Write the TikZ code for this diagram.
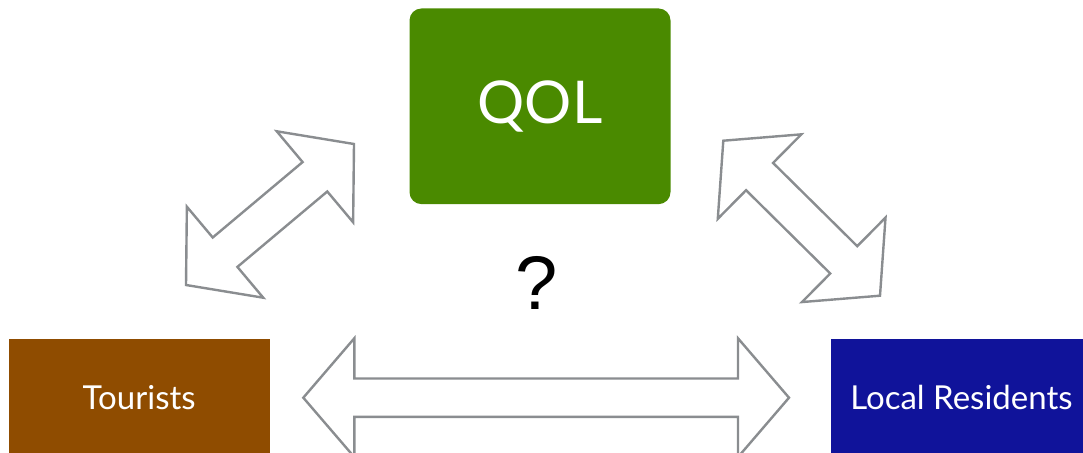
\documentclass[tikz,border=0pt]{standalone}
\usepackage{fontspec}
\setmainfont{Lato}
\newfontfamily\qmarkfont{Liberation Sans}
\usetikzlibrary{calc}
\definecolor{qolgreen}{RGB}{74,138,0}
\definecolor{touristbrown}{RGB}{143,76,0}
\definecolor{residentblue}{RGB}{16,19,154}
\definecolor{arrowgray}{RGB}{138,141,144}
\tikzset{
  box/.style={minimum width=261pt, minimum height=117pt, inner sep=0pt, text=white},
  arrowline/.style={draw=arrowgray, line width=2.4pt, fill=white, line join=miter},
}
% hollow double arrow from tip #1 to tip #2
\newcommand{\blockarrow}[2]{%
  \coordinate (#1h) at ($(#1)!51pt!(#2)$);
  \coordinate (#2h) at ($(#2)!51pt!(#1)$);
  \draw[arrowline] (#1)
    -- ($(#1h)!59.4pt!90:(#2)$) -- ($(#1h)!19.2pt!90:(#2)$)
    -- ($(#2h)!19.2pt!-90:(#1)$) -- ($(#2h)!59.4pt!-90:(#1)$)
    -- (#2)
    -- ($(#2h)!59.4pt!90:(#1)$) -- ($(#2h)!19.2pt!90:(#1)$)
    -- ($(#1h)!19.2pt!-90:(#2)$) -- ($(#1h)!59.4pt!-90:(#2)$)
    -- cycle;}
\begin{document}
\begin{tikzpicture}[x=1pt, y=-1pt]
      \clip (0,0) rectangle (1083,452);
      \draw
        (540,106.3) node[box, fill=qolgreen, minimum height=195.7pt, rounded corners=12pt,
          font=\fontsize{59}{62}\selectfont] (qol){QOL}
        (139.2,397.8) node[box, fill=touristbrown, font=\fontsize{33}{36}\selectfont] (tourists){Tourists}
        (961.4,397.8) node[box, fill=residentblue, font=\fontsize{33}{36}\selectfont] (residents){Local Residents}
        (537,283) node[font=\qmarkfont\fontsize{76}{80}\selectfont] (question){?};
      \coordinate (qolleft) at (354,144);
      \coordinate (touristsup) at (186,285);
      \coordinate (qolright) at (723.3,140.7);
      \coordinate (residentsup) at (880,295.7);
      \coordinate (touristsright) at (303.3,397.7);
      \coordinate (residentsleft) at (789,397.7);
      \begin{scope}
        \blockarrow{qolleft}{touristsup}
        \blockarrow{qolright}{residentsup}
        \blockarrow{touristsright}{residentsleft}
      \end{scope}
    \end{tikzpicture}
\end{document}
